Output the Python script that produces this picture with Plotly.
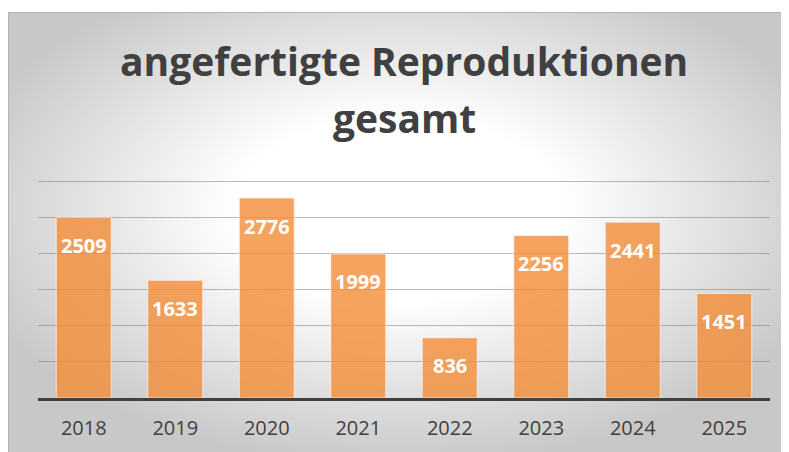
import base64
import plotly.graph_objects as go

years = ["2018", "2019", "2020", "2021", "2022", "2023", "2024", "2025"]
values = [2509, 1633, 2776, 1999, 836, 2256, 2441, 1451]
grid_values = [500, 1000, 1500, 2000, 2500, 3000]
title_line1 = "angefertigte Reproduktionen"
title_line2 = "gesamt"

positions = list(range(len(years)))

# page body has an 8px margin, so the figure is 8px smaller than the window
W, H = 781, 444
L, R, T, B = 30, 19, 171, 54

svg = """<svg xmlns='http://www.w3.org/2000/svg' width='781' height='440' viewBox='0 0 781 440' preserveAspectRatio='none'>
<defs><radialGradient id='g' cx='0.50' cy='0.45' r='0.58'>
<stop offset='0' stop-color='#ffffff'/>
<stop offset='0.36' stop-color='#ffffff'/>
<stop offset='1' stop-color='#c8c8c8'/>
</radialGradient></defs>
<rect x='0' y='0' width='781' height='440' fill='url(#g)'/>
<rect x='0.5' y='0.5' width='790' height='450' fill='none' stroke='#b4b4b4' stroke-width='1'/>
</svg>"""
src = "data:image/svg+xml;base64," + base64.b64encode(svg.encode()).decode()

fig = go.Figure()
fig.add_trace(go.Bar(
    x=positions, y=values,
    marker=dict(color="rgba(243,140,55,0.8)", line=dict(color="rgba(255,255,255,0.6)", width=1)),
    hoverinfo="skip",
))

annotations = []
for p, v in zip(positions, values):
    annotations.append(dict(
        x=p, y=v, xref="x", yref="y", text=f"<b>{v}</b>", showarrow=False,
        yanchor="middle", yshift=-28,
        font=dict(family="Open Sans", size=20, color="white"),
    ))

annotations.append(dict(
    x=0.5, y=1, xref="paper", yref="paper", text=f"<b>{title_line1}</b>", showarrow=False,
    yanchor="middle", yshift=T - 52,
    font=dict(family="Open Sans", size=39, color="#404040"),
))
annotations.append(dict(
    x=0.5, y=1, xref="paper", yref="paper", text=f"<b>{title_line2}</b>", showarrow=False,
    yanchor="middle", yshift=T - 109,
    font=dict(family="Open Sans", size=39, color="#404040"),
))

fig.update_layout(
    width=W, height=H,
    margin=dict(l=L, r=R, t=T, b=B, pad=0),
    paper_bgcolor="white",
    plot_bgcolor="rgba(0,0,0,0)",
    bargap=0.4,
    showlegend=False,
    annotations=annotations,
    images=[dict(source=src, xref="paper", yref="paper",
                 x=-L / (W - L - R), y=1 + (T - 4) / (H - T - B),
                 sizex=W / (W - L - R), sizey=(H - 4) / (H - T - B),
                 sizing="stretch", xanchor="left", yanchor="top", layer="below")],
    xaxis=dict(
        range=[-0.5, len(years) - 0.5],
        tickmode="array", tickvals=positions, ticktext=years,
        showline=True, linecolor="#404040", linewidth=3,
        showgrid=False, ticks="", ticklabelstandoff=10, automargin=False,
        tickfont=dict(family="Open Sans", size=20, color="#404040"),
        fixedrange=True,
    ),
    yaxis=dict(
        range=[0, 3040], tickmode="array", tickvals=grid_values,
        showticklabels=False, showgrid=True, gridcolor="rgba(120,120,120,0.5)", gridwidth=1.2,
        zeroline=False, showline=False, automargin=False,
        fixedrange=True,
    ),
)

fig.write_html("out.html", config={"displayModeBar": False})
